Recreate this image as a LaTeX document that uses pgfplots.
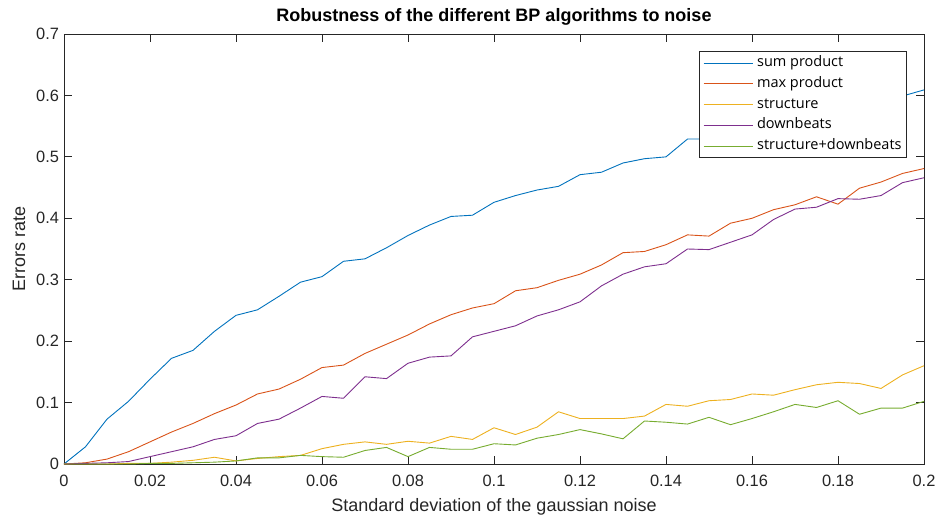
\documentclass[border=0pt]{standalone}
\usepackage{fontspec}
\setmainfont{Liberation Sans}
\newfontfamily\legfont{Open Sans}
\usepackage{pgfplots}
\usepackage{pgfplotstable}
\pgfplotsset{compat=1.18}
\definecolor{mA}{rgb}{0,0.447,0.741}
\definecolor{mB}{rgb}{0.85,0.325,0.098}
\definecolor{mC}{rgb}{0.929,0.694,0.125}
\definecolor{mD}{rgb}{0.494,0.184,0.556}
\definecolor{mE}{rgb}{0.466,0.674,0.188}
\definecolor{axgray}{rgb}{0.15,0.15,0.15}

\pgfplotstableread{
x sp mp st db sd
0 0 0 0 0 0
0.005 0.028 0.002 0 0.001 0
0.01 0.073 0.008 0 0.002 0
0.015 0.102 0.020 0.001 0.004 0
0.02 0.138 0.036 0.001 0.012 0.001
0.025 0.172 0.052 0.003 0.020 0.001
0.03 0.185 0.066 0.006 0.028 0.002
0.035 0.216 0.082 0.011 0.040 0.003
0.04 0.242 0.096 0.005 0.046 0.005
0.045 0.251 0.114 0.009 0.066 0.010
0.05 0.273 0.122 0.012 0.073 0.010
0.055 0.296 0.138 0.014 0.091 0.014
0.06 0.305 0.157 0.025 0.110 0.012
0.065 0.330 0.161 0.032 0.107 0.011
0.07 0.334 0.180 0.036 0.142 0.022
0.075 0.352 0.195 0.032 0.139 0.027
0.08 0.372 0.210 0.037 0.164 0.012
0.085 0.389 0.228 0.034 0.174 0.027
0.09 0.403 0.243 0.045 0.176 0.024
0.095 0.405 0.254 0.040 0.207 0.024
0.1 0.426 0.261 0.059 0.216 0.033
0.105 0.437 0.282 0.048 0.225 0.031
0.11 0.446 0.287 0.060 0.241 0.042
0.115 0.452 0.299 0.085 0.251 0.048
0.12 0.471 0.309 0.074 0.264 0.056
0.125 0.475 0.324 0.074 0.290 0.049
0.13 0.490 0.344 0.074 0.309 0.041
0.135 0.497 0.346 0.078 0.321 0.070
0.14 0.500 0.357 0.097 0.326 0.068
0.145 0.529 0.373 0.094 0.350 0.065
0.15 0.529 0.371 0.103 0.349 0.076
0.155 0.540 0.392 0.105 0.361 0.064
0.16 0.550 0.400 0.114 0.373 0.074
0.165 0.556 0.414 0.112 0.398 0.085
0.17 0.565 0.422 0.121 0.415 0.097
0.175 0.571 0.435 0.129 0.418 0.092
0.18 0.579 0.423 0.133 0.432 0.103
0.185 0.586 0.449 0.131 0.431 0.081
0.19 0.592 0.459 0.123 0.437 0.091
0.195 0.599 0.473 0.145 0.458 0.091
0.2 0.609 0.481 0.160 0.466 0.102
}\data

\begin{document}
\begin{tikzpicture}
\path[use as bounding box] (-64bp,-51bp) rectangle (872bp,464bp);
\begin{axis}[
  at={(0,0)}, anchor=south west,
  scale only axis, width=860bp, height=430bp,
  xmin=0, xmax=0.2, ymin=0, ymax=0.7,
  xtick={0,0.02,0.04,0.06,0.08,0.1,0.12,0.14,0.16,0.18,0.2},
  ytick={0,0.1,0.2,0.3,0.4,0.5,0.6,0.7},
  tick align=inside, tick pos=both, ticklabel pos=left,
  major tick length=8bp,
  axis line style={axgray, line width=0.8bp},
  tick style={axgray, line width=0.8bp},
  /pgf/number format/assume math mode=true,
  every tick label/.append style={font=\fontsize{16.4bp}{19bp}\selectfont, text=axgray},
  xticklabel style={/pgf/number format/fixed, /pgf/number format/precision=3, yshift=-7.5bp},
  yticklabel style={/pgf/number format/fixed, /pgf/number format/precision=2, xshift=-1.5bp},
  scaled ticks=false,
  title={Robustness of the different BP algorithms to noise},
  title style={font=\bfseries\fontsize{18bp}{21bp}\selectfont, at={(axis description cs:0.5,1.0163)}, anchor=base},
  xlabel={Standard deviation of the gaussian noise},
  xlabel style={font=\fontsize{18bp}{21bp}\selectfont, text=axgray, at={(axis description cs:0.5,-0.1116)}, anchor=base},
  ylabel={Errors rate},
  ylabel style={font=\fontsize{18bp}{21bp}\selectfont, text=axgray, at={(axis description cs:-0.0453,0.5)}, anchor=base, rotate=0},
  legend style={at={(axis description cs:0.9802,0.9605)}, anchor=north east, draw=axgray, line width=0.8bp, fill=white,
    font=\legfont\fontsize{14.5bp}{17bp}\selectfont, inner xsep=4bp, inner ysep=1.5bp, row sep=0pt, column sep=3bp,
    nodes={text height=10.5bp, text depth=3.5bp, inner ysep=3.35bp, inner xsep=1bp}},
  legend cell align=left,
]
\addplot[color=mA, line width=0.9bp, legend image code/.code={\draw[mA, line width=0.9bp] (0bp,0bp) -- (49bp,0bp);}] table[x=x,y=sp] {\data};
\addlegendentry{sum product}
\addplot[color=mB, line width=0.9bp, legend image code/.code={\draw[mB, line width=0.9bp] (0bp,0bp) -- (49bp,0bp);}] table[x=x,y=mp] {\data};
\addlegendentry{max product}
\addplot[color=mC, line width=0.9bp, legend image code/.code={\draw[mC, line width=0.9bp] (0bp,0bp) -- (49bp,0bp);}] table[x=x,y=st] {\data};
\addlegendentry{structure}
\addplot[color=mD, line width=0.9bp, legend image code/.code={\draw[mD, line width=0.9bp] (0bp,0bp) -- (49bp,0bp);}] table[x=x,y=db] {\data};
\addlegendentry{downbeats}
\addplot[color=mE, line width=0.9bp, legend image code/.code={\draw[mE, line width=0.9bp] (0bp,0bp) -- (49bp,0bp);}] table[x=x,y=sd] {\data};
\addlegendentry{structure+downbeats}
\end{axis}
\end{tikzpicture}
\end{document}
